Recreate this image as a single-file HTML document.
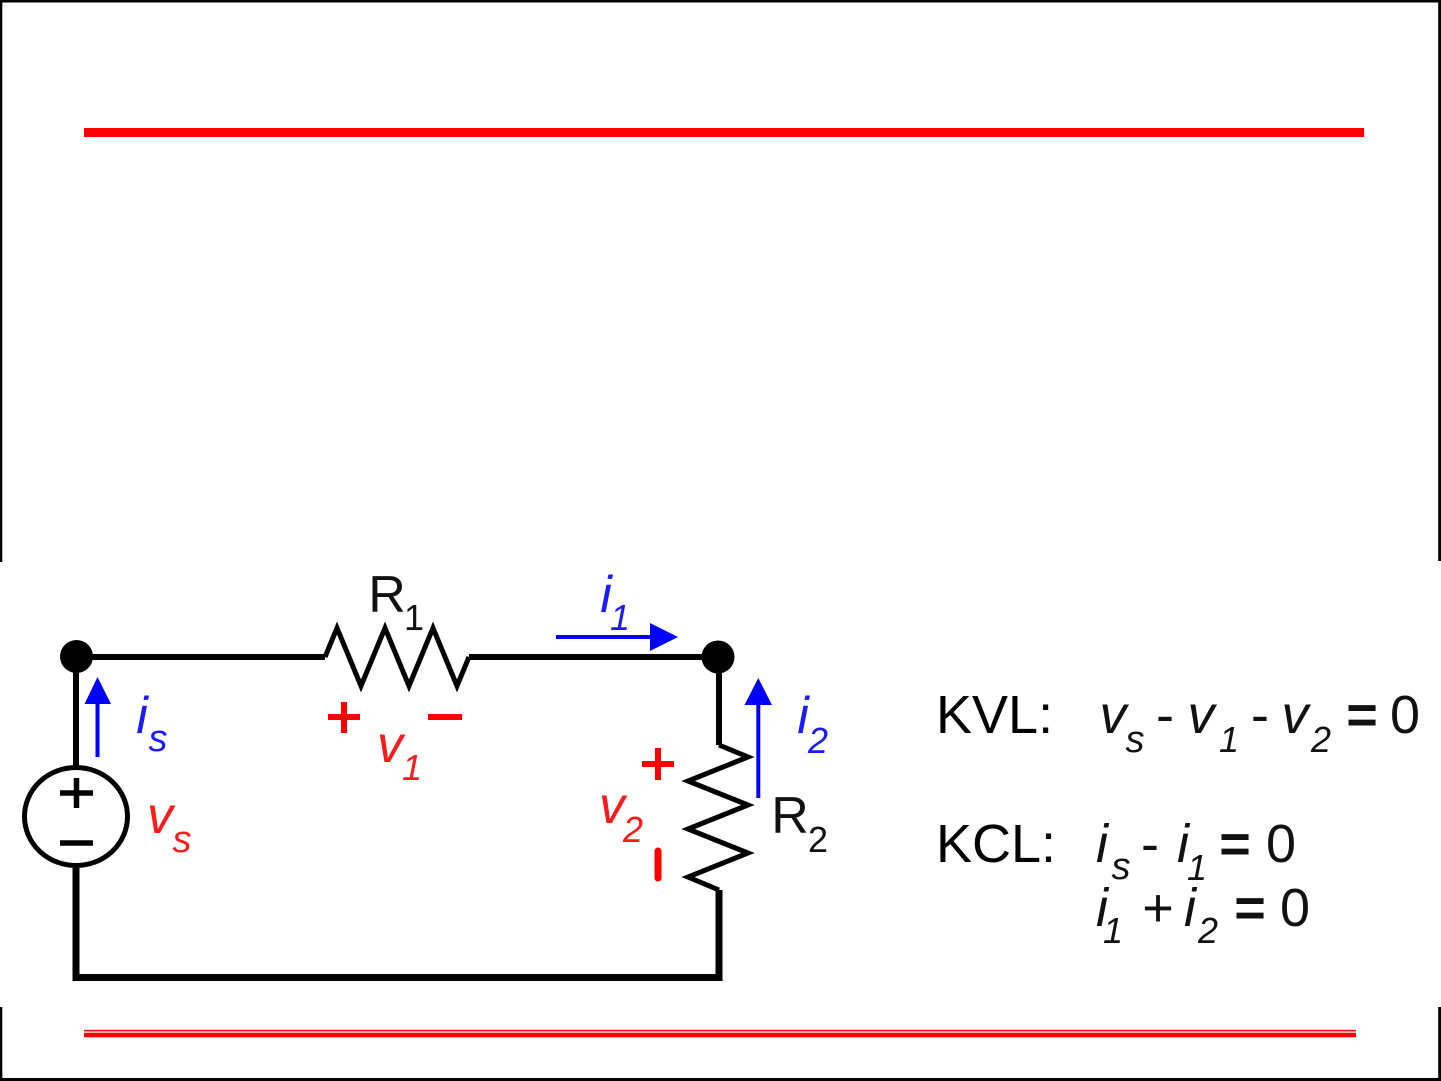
<!DOCTYPE html>
<html>
<head>
<meta charset="utf-8">
<style>
  html, body { margin: 0; padding: 0; background: #fff; }
  svg { display: block; }
  text { font-family: "Liberation Sans", Arial, sans-serif; }
  .it { font-style: italic; }
  .eq { font-weight: bold; }
</style>
</head>
<body>
<svg width="1441" height="1081" viewBox="0 0 1441 1081" xmlns="http://www.w3.org/2000/svg">
  <rect x="0" y="0" width="1441" height="1081" fill="#fff"/>

  <!-- frame top part -->
  <rect x="0" y="0" width="1441" height="2.5" fill="#000"/>
  <rect x="0" y="0" width="2.3" height="562" fill="#000"/>
  <rect x="1438.2" y="0" width="2.8" height="561" fill="#000"/>
  <!-- frame bottom part -->
  <rect x="0" y="1007" width="2.3" height="74" fill="#000"/>
  <rect x="1438.2" y="1007" width="2.8" height="74" fill="#000"/>
  <rect x="0" y="1078" width="1441" height="3" fill="#000"/>

  <!-- red rules -->
  <rect x="84" y="128" width="1280" height="9" fill="#ff0000"/>
  <rect x="84" y="1029.8" width="1272" height="1.6" fill="#ff0000"/>
  <rect x="84" y="1032.7" width="1272" height="4.6" fill="#ff0000"/>

  <!-- circuit wires -->
  <g fill="none" stroke="#000" stroke-linejoin="miter" stroke-linecap="butt">
    <path d="M76,766 V657 H325" stroke-width="6"/>
    <path d="M325,657 L337,628 L361,686 L385,628 L409,686 L433,628 L457,686 L469,657" stroke-width="5"/>
    <path d="M469,657 H719 V745" stroke-width="6"/>
    <path d="M719,745 L748,757 L688,781 L748,805 L688,829 L748,853 L688,877 L719,890" stroke-width="5"/>
    <path d="M719,890 V977.5 H76 V868" stroke-width="7"/>
    <!-- voltage source -->
    <ellipse cx="76" cy="816.5" rx="51.5" ry="49" stroke-width="5"/>
    <path d="M60,793 H93 M76.5,778 V808" stroke-width="5.5"/>
    <path d="M60,843 H93" stroke-width="5.5"/>
  </g>
  <!-- nodes -->
  <circle cx="76.5" cy="656.5" r="16.5" fill="#000"/>
  <circle cx="718" cy="657" r="16.5" fill="#000"/>

  <!-- current arrows (blue) -->
  <g stroke="#0000ff" stroke-width="4" fill="none">
    <path d="M97.5,757 V700"/>
    <path d="M556,637 H655"/>
    <path d="M758.3,798 V700"/>
  </g>
  <g fill="#0000ff">
    <polygon points="97.5,677 84.5,704 111,704"/>
    <polygon points="678,637 650,623 650,651"/>
    <polygon points="758.3,678 744.5,705 772,705"/>
  </g>

  <!-- red polarity marks -->
  <g stroke="#ff0000" stroke-width="6" fill="none">
    <path d="M328,717 H360 M344,702 V733"/>
    <path d="M428,717 H462"/>
    <path d="M642,764 H674 M658,748 V780"/>
  </g>
  <path d="M658,851 V878" stroke="#ff0000" stroke-width="7" stroke-linecap="round"/>

  <!-- component labels -->
  <g fill="#111" text-anchor="middle">
    <text x="387" y="612" font-size="52">R</text>
    <text x="414" y="630" font-size="36">1</text>
    <text x="790" y="833" font-size="52">R</text>
    <text x="818" y="852" font-size="36">2</text>
  </g>

  <!-- blue current labels -->
  <g fill="#1a1aff" text-anchor="middle" class="it">
    <text x="142" y="733" font-size="52">i</text>
    <text x="158" y="751" font-size="38">s</text>
    <text x="606" y="612" font-size="52">i</text>
    <text x="620" y="630" font-size="36">1</text>
    <text x="803" y="733" font-size="52">i</text>
    <text x="818" y="753" font-size="36">2</text>
  </g>

  <!-- red voltage labels -->
  <g fill="#ff1a1a" text-anchor="middle" class="it">
    <text x="160" y="833" font-size="52">v</text>
    <text x="182" y="852" font-size="38">s</text>
    <text x="390" y="762" font-size="52">v</text>
    <text x="412" y="780" font-size="36">1</text>
    <text x="612" y="823" font-size="52">v</text>
    <text x="633" y="842" font-size="36">2</text>
  </g>

  <!-- equations -->
  <g fill="#000">
    <text x="936" y="733" font-size="54">KVL:</text>
    <text x="936" y="862" font-size="54">KCL:</text>
  </g>
  <g fill="#111" text-anchor="middle">
    <!-- KVL: vs - v1 - v2 = 0 -->
    <text x="1113" y="733" font-size="54" class="it">v</text>
    <text x="1135" y="752" font-size="38" class="it">s</text>
    <text x="1165" y="733" font-size="54">-</text>
    <text x="1201" y="733" font-size="54" class="it">v</text>
    <text x="1229" y="752" font-size="36" class="it">1</text>
    <text x="1260" y="733" font-size="54">-</text>
    <text x="1295" y="733" font-size="54" class="it">v</text>
    <text x="1321" y="752" font-size="36" class="it">2</text>
    <text x="1362" y="733" font-size="54" class="eq">=</text>
    <text x="1405" y="733" font-size="54">0</text>

    <!-- KCL line 1: is - i1 = 0 -->
    <text x="1102" y="862" font-size="54" class="it">i</text>
    <text x="1121" y="879" font-size="38" class="it">s</text>
    <text x="1150" y="862" font-size="54">-</text>
    <text x="1183" y="862" font-size="54" class="it">i</text>
    <text x="1197" y="880" font-size="36" class="it">1</text>
    <text x="1235" y="862" font-size="54" class="eq">=</text>
    <text x="1281" y="862" font-size="54">0</text>

    <!-- KCL line 2: i1 + i2 = 0 -->
    <text x="1102" y="926" font-size="54" class="it">i</text>
    <text x="1113" y="943" font-size="36" class="it">1</text>
    <text x="1158" y="926" font-size="54">+</text>
    <text x="1190" y="926" font-size="54" class="it">i</text>
    <text x="1208" y="943" font-size="36" class="it">2</text>
    <text x="1250" y="926" font-size="54" class="eq">=</text>
    <text x="1295" y="926" font-size="54">0</text>
  </g>
</svg>
</body>
</html>
